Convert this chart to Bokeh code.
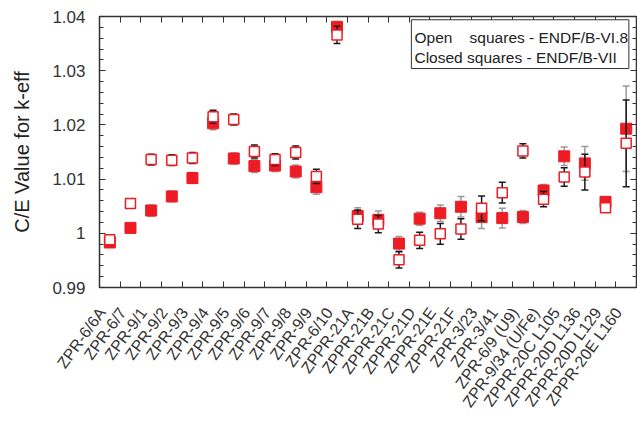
import math
from bokeh.plotting import figure
from bokeh.models import (Range1d, LinearAxis, FixedTicker, CustomJSTickFormatter,
                          BoxAnnotation, Label)
from bokeh.embed import file_html
from bokeh.resources import INLINE

# Benchmark cases
cases = ["ZPR-6/6A", "ZPR-6/7", "ZPR-9/1", "ZPR-9/2", "ZPR-9/3", "ZPR-9/4", "ZPR-9/5",
         "ZPR-9/6", "ZPR-9/7", "ZPR-9/8", "ZPR-9/9", "ZPR-6/10", "ZPPR-21A", "ZPPR-21B",
         "ZPPR-21C", "ZPPR-21D", "ZPPR-21E", "ZPPR-21F", "ZPR-3/23", "ZPR-3/41",
         "ZPR-6/9 (U9)", "ZPR-9/34 (U/Fe)", "ZPPR-20C L105", "ZPPR-20D L136",
         "ZPPR-20D L129", "ZPPR-20E L160"]

# C/E with ENDF/B-VII (closed squares) and its uncertainty
ce_b7 = [0.9983, 1.0010, 1.0042, 1.0068, 1.0102, 1.0203, 1.0138, 1.0124, 1.0125, 1.0114,
         1.0085, 1.0381, 1.0032, 1.0025, 0.9981, 1.0027, 1.0037, 1.0049, 1.0030, 1.0028,
         1.0030, 1.0079, 1.0142, 1.0129, 1.0058, 1.0193]
err_b7 = [0.0008, 0.0008, 0.0010, 0.0010, 0.0010, 0.0012, 0.0010, 0.0012, 0.0011, 0.0012,
          0.0013, 0.0009, 0.0015, 0.0016, 0.0013, 0.0012, 0.0015, 0.0019, 0.0021, 0.0018,
          0.0012, 0.0011, 0.0017, 0.0031, 0.0005, 0.0079]

# C/E with ENDF/B-VI.8 (open squares) and its uncertainty
ce_b68 = [0.9988, 1.0055, 1.0136, 1.0135, 1.0139, 1.0215, 1.0210, 1.0151, 1.0136, 1.0149,
          1.0105, 1.0366, 1.0026, 1.0017, 0.9951, 0.9987, 0.9999, 1.0008, 1.0046, 1.0075,
          1.0152, 1.0063, 1.0104, 1.0113, 1.0047, 1.0166]
err_b68 = [0.0008, 0.0008, 0.0010, 0.0010, 0.0010, 0.0012, 0.0010, 0.0012, 0.0011, 0.0012,
           0.0013, 0.0016, 0.0017, 0.0016, 0.0015, 0.0015, 0.0019, 0.0019, 0.0023, 0.0019,
           0.0013, 0.0014, 0.0017, 0.0033, 0.0008, 0.0080]

y_major = [0.99, 1.0, 1.01, 1.02, 1.03, 1.04]
y_minor = [0.99 + 0.002 * k for k in range(26)]

RED = "#ed1c24"
GRAY = "#9a9a9a"
BLACK = "#1a1a1a"
AXIS = "#333333"
FONT = "Liberation Sans"

n = len(cases)
xc = [i + 0.5 for i in range(n)]
bounds = list(range(n + 1))
# rotated names end a little left of each case centre
label_pos = [i + 0.12 for i in range(n)]

lo7 = [v - e for v, e in zip(ce_b7, err_b7)]
hi7 = [v + e for v, e in zip(ce_b7, err_b7)]
lo68 = [v - e for v, e in zip(ce_b68, err_b68)]
hi68 = [v + e for v, e in zip(ce_b68, err_b68)]

p = figure(width=637, height=430, output_backend="svg", toolbar_location=None,
           x_range=Range1d(0, n), y_range=Range1d(y_major[0], y_major[-1]),
           min_border_left=99, min_border_right=1, min_border_top=16,
           min_border_bottom=143)
p.xgrid.visible = False
p.ygrid.visible = False
p.outline_line_color = AXIS
p.outline_line_width = 1.5

# bottom axis: names under the cases, tick marks at the case boundaries
xa = p.xaxis[0]
xa.ticker = FixedTicker(ticks=label_pos, minor_ticks=bounds)
xa.formatter = CustomJSTickFormatter(args=dict(names=cases),
                                     code="return names[Math.floor(tick)];")
xa.major_tick_in = 0
xa.major_tick_out = 0
xa.minor_tick_in = 6
xa.minor_tick_out = 0
xa.minor_tick_line_color = AXIS
xa.axis_line_color = None
xa.major_label_orientation = math.radians(54)
xa.major_label_text_font = FONT
xa.major_label_text_font_size = "16px"
xa.major_label_text_color = AXIS
xa.major_label_standoff = 22

ya = p.yaxis[0]
ya.ticker = FixedTicker(ticks=y_major, minor_ticks=y_minor)
ya.formatter = CustomJSTickFormatter(code="return tick.toFixed(2).replace(/\\.?0+$/, '');")
ya.major_tick_in = 6
ya.major_tick_out = 0
ya.minor_tick_in = 4
ya.minor_tick_out = 0
ya.major_tick_line_color = AXIS
ya.minor_tick_line_color = AXIS
ya.axis_line_color = None
ya.major_label_text_font = FONT
ya.major_label_text_font_size = "17px"
ya.major_label_text_color = AXIS
ya.major_label_standoff = 14
ya.axis_label = "C/E Value for k-eff"
ya.axis_label_text_font = FONT
ya.axis_label_text_font_size = "20px"
ya.axis_label_text_font_style = "normal"
ya.axis_label_text_color = "#222222"
ya.axis_label_standoff = 16


def tick_only_axis(ticks, length):
    # an axis that draws only inward tick marks, with no labels
    return LinearAxis(ticker=FixedTicker(ticks=[], minor_ticks=ticks),
                      major_label_standoff=0, major_tick_in=0, major_tick_out=0,
                      minor_tick_in=length, minor_tick_out=0,
                      minor_tick_line_color=AXIS, axis_line_color=None)


# mirrored tick marks on top and right
p.add_layout(tick_only_axis(bounds, 6), "above")
p.add_layout(tick_only_axis(y_minor, 4), "right")
p.add_layout(tick_only_axis(y_major, 6), "right")

# ENDF/B-VII uncertainties and points
p.segment(xc, lo7, xc, hi7, line_color=GRAY, line_width=1.5)
p.scatter(xc + xc, lo7 + hi7, marker="dash", size=7, line_color=GRAY, line_width=1.5)
p.scatter(xc, ce_b7, marker="square", size=11, fill_color=RED, line_color=RED, line_width=1)

# ENDF/B-VI.8 uncertainties and points
p.segment(xc, lo68, xc, hi68, line_color=BLACK, line_width=1.5)
p.scatter(xc + xc, lo68 + hi68, marker="dash", size=7, line_color=BLACK, line_width=1.5)
p.scatter(xc, ce_b68, marker="square", size=10, fill_color="white", line_color=RED,
          line_width=1.5)

# key box
p.add_layout(BoxAnnotation(left=15.1, right=25.63, top=1.0394, bottom=1.0304,
                           fill_color="white", fill_alpha=1.0,
                           line_color=AXIS, line_width=1, line_alpha=1.0))
p.add_layout(Label(x=15.25, y=1.0361,
                   text="Open\u00a0\u00a0\u00a0\u00a0squares - ENDF/B-VI.8",
                   text_font=FONT, text_font_size="15.5px", text_color="#222222",
                   text_baseline="alphabetic"))
p.add_layout(Label(x=15.25, y=1.0324, text="Closed squares - ENDF/B-VII",
                   text_font=FONT, text_font_size="15.5px", text_color="#222222",
                   text_baseline="alphabetic"))

open("out.html", "w").write(file_html(p, INLINE))
